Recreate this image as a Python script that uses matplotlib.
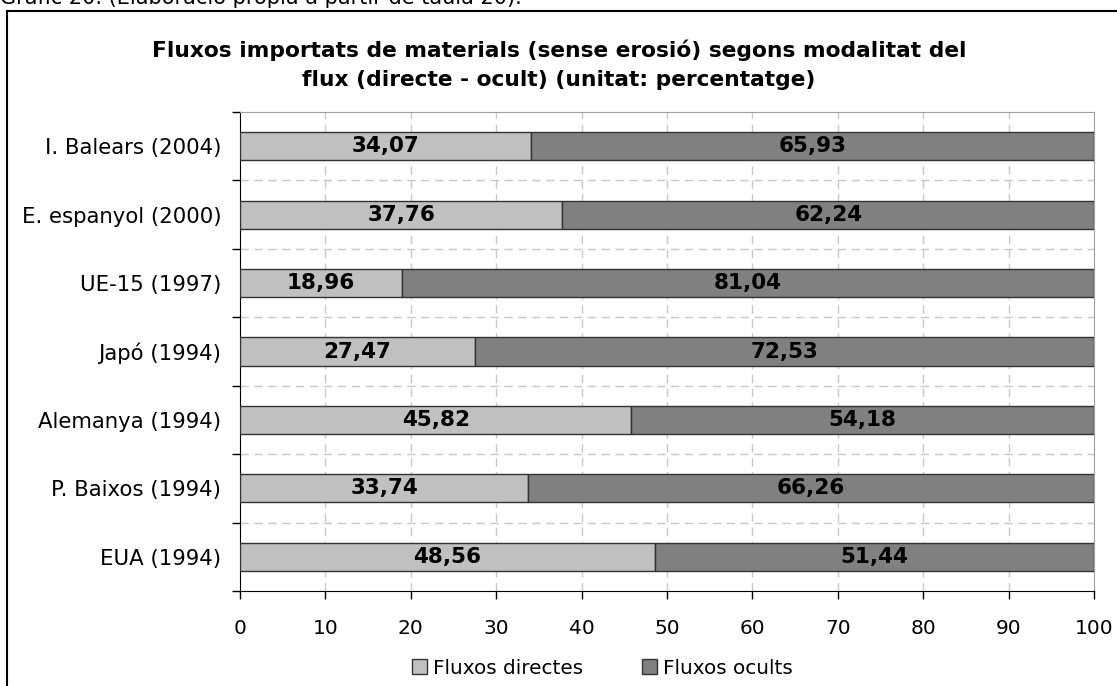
import matplotlib
matplotlib.use('Agg')
from matplotlib import pyplot as plt
from matplotlib.lines import Line2D
from matplotlib.patches import Patch
import numpy as np

categories = ['I. Balears (2004)', 'E. espanyol (2000)', 'UE-15 (1997)', 'Japó (1994)',
              'Alemanya (1994)', 'P. Baixos (1994)', 'EUA (1994)']
directes = [34.07, 37.76, 18.96, 27.47, 45.82, 33.74, 48.56]
ocults = [65.93, 62.24, 81.04, 72.53, 54.18, 66.26, 51.44]
series_names = ['Fluxos directes', 'Fluxos ocults']
xticks = [0, 10, 20, 30, 40, 50, 60, 70, 80, 90, 100]

titol = ('Fluxos importats de materials (sense erosió) segons modalitat del\n'
         'flux (directe - ocult) (unitat: percentatge)')
peu = 'Gràfic 20. (Elaboració pròpia a partir de taula 20).'

c_dir = '#C0C0C0'
c_ocu = '#808080'

def fmt(v):
    return ('%.2f' % v).replace('.', ',')

fig = plt.figure(figsize=(11.17, 6.86), dpi=100)
ax = fig.add_axes([240/1117, 1-591/686, (1094-240)/1117, (591-112)/686])

y = np.arange(len(categories))
h = 0.41
ax.barh(y, directes, height=h, color=c_dir, edgecolor='#333333', linewidth=1, zorder=3)
ax.barh(y, ocults, left=directes, height=h, color=c_ocu, edgecolor='#333333', linewidth=1, zorder=3)

for i in range(len(categories)):
    ax.text(directes[i]/2, y[i], fmt(directes[i]), ha='center', va='center',
            fontsize=15.5, fontweight='bold', zorder=4)
    ax.text(directes[i] + ocults[i]/2, y[i], fmt(ocults[i]), ha='center', va='center',
            fontsize=15.5, fontweight='bold', zorder=4)

ax.set_ylim(len(categories) - 0.5, -0.5)
ax.set_xlim(0, 100)
ax.set_xticks(xticks)
ax.set_xticklabels([str(t) for t in xticks], fontsize=14.5)
ax.set_yticks(y)
ax.set_yticklabels(categories, fontsize=15.3)
ax.set_yticks(np.arange(-0.5, len(categories), 1), minor=True)
ax.tick_params(axis='y', which='major', length=0, pad=13.5)
ax.tick_params(axis='y', which='minor', length=6, direction='out', width=1)
ax.tick_params(axis='x', length=6, direction='out', width=1, pad=14)

# quadricula discontinua
for b in np.arange(0.5, len(categories) - 0.5, 1):
    ax.axhline(b, color='#C8C8C8', linestyle=(0, (6, 4)), linewidth=1, zorder=1)
for t in xticks[1:-1]:
    ax.axvline(t, color='#C8C8C8', linestyle=(0, (6, 4)), linewidth=1, zorder=1)

ax.spines['left'].set_color('black')
ax.spines['bottom'].set_color('black')
ax.spines['top'].set_color('#A0A0A0')
ax.spines['right'].set_color('#A0A0A0')

fig.text(559/1117, 1-65/686, titol, ha='center', va='center', fontsize=15.7,
         fontweight='bold', linespacing=1.55)

# peu de figura (tallat a dalt)
fig.text(0, 1-4/686, peu, ha='left', va='baseline', fontsize=15)

# marc del grafic
fig.add_artist(Line2D([7/1117, 7/1117], [-0.01, 1-11/686], color='black', linewidth=1.5))
fig.add_artist(Line2D([7/1117, 1.01], [1-11/686, 1-11/686], color='black', linewidth=1.5))

handles = [Patch(facecolor=c_dir, edgecolor='#333333'), Patch(facecolor=c_ocu, edgecolor='#333333')]
fig.legend(handles, series_names, loc='center', bbox_to_anchor=(602/1117, 18/686), ncol=2,
           frameon=False, fontsize=14.4, handlelength=0.75, handleheight=0.75,
           handletextpad=0.3, columnspacing=2.95, borderpad=0)

plt.savefig('out.png', dpi=100)
